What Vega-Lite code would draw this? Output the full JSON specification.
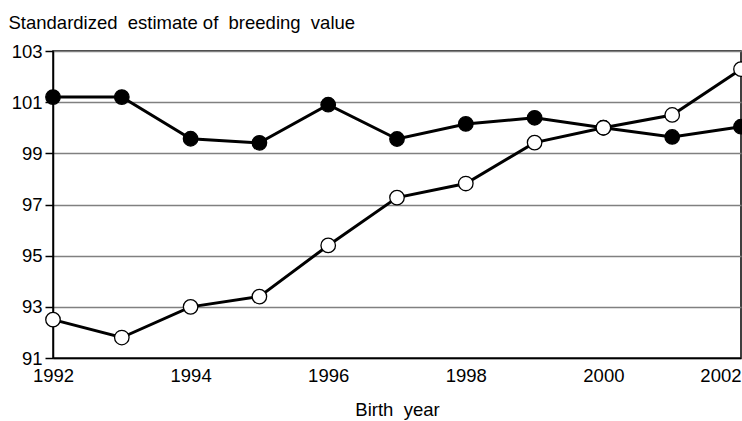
{
  "$schema": "https://vega.github.io/schema/vega-lite/v6.json",
  "width": 688,
  "height": 307,
  "autosize": {"type": "none"},
  "padding": {"left": 53, "top": 51, "right": 1, "bottom": 63},
  "background": "white",
  "config": {
    "view": {"stroke": "black", "strokeWidth": 1.5},
    "font": "Liberation Sans"
  },
  "data": {
    "values": [
      {"year": 1992, "series": "filled", "value": 101.2},
      {"year": 1993, "series": "filled", "value": 101.2},
      {"year": 1994, "series": "filled", "value": 99.57},
      {"year": 1995, "series": "filled", "value": 99.41},
      {"year": 1996, "series": "filled", "value": 100.9},
      {"year": 1997, "series": "filled", "value": 99.56},
      {"year": 1998, "series": "filled", "value": 100.15},
      {"year": 1999, "series": "filled", "value": 100.39},
      {"year": 2000, "series": "filled", "value": 100.0},
      {"year": 2001, "series": "filled", "value": 99.64},
      {"year": 2002, "series": "filled", "value": 100.04},
      {"year": 1992, "series": "open", "value": 92.5},
      {"year": 1993, "series": "open", "value": 91.8},
      {"year": 1994, "series": "open", "value": 93.0},
      {"year": 1995, "series": "open", "value": 93.4},
      {"year": 1996, "series": "open", "value": 95.4},
      {"year": 1997, "series": "open", "value": 97.27},
      {"year": 1998, "series": "open", "value": 97.82},
      {"year": 1999, "series": "open", "value": 99.42},
      {"year": 2000, "series": "open", "value": 100.0},
      {"year": 2001, "series": "open", "value": 100.5},
      {"year": 2002, "series": "open", "value": 102.29}
    ]
  },
  "encoding": {
    "x": {
      "field": "year",
      "type": "quantitative",
      "scale": {"domain": [1992, 2002], "nice": false, "zero": false},
      "axis": {
        "values": [1992, 1994, 1996, 1998, 2000, 2002],
        "format": "d",
        "grid": false,
        "ticks": false,
        "domainColor": "black",
        "domainWidth": 1.5,
        "labelFontSize": 18.5,
        "labelColor": "black",
        "labelPadding": 8,
        "labelAlign": {"condition": {"test": "datum.value == 2002", "value": "right"}, "value": "center"},
        "title": "Birth\u00a0 year",
        "titleFontSize": 18.5,
        "titleFontWeight": "normal",
        "titleColor": "black",
        "titleBaseline": "middle",
        "titleY": 51
      }
    },
    "y": {
      "field": "value",
      "type": "quantitative",
      "scale": {"domain": [91, 103], "nice": false, "zero": false},
      "axis": {
        "values": [91, 93, 95, 97, 99, 101, 103],
        "grid": true,
        "gridColor": "#808080",
        "gridWidth": 1.5,
        "domainColor": "black",
        "domainWidth": 1.5,
        "tickColor": "black",
        "tickSize": 8,
        "tickWidth": 1.5,
        "labelFontSize": 18.5,
        "labelColor": "black",
        "labelPadding": 3,
        "title": "Standardized\u00a0 estimate of\u00a0 breeding\u00a0 value",
        "titleAngle": 0,
        "titleAlign": "left",
        "titleBaseline": "alphabetic",
        "titleX": -45,
        "titleY": -23,
        "titleFontSize": 18.5,
        "titleFontWeight": "normal",
        "titleColor": "black"
      }
    }
  },
  "layer": [
    {
      "mark": {"type": "line", "color": "black", "strokeWidth": 3},
      "encoding": {"detail": {"field": "series"}}
    },
    {
      "mark": {"type": "circle", "size": 210, "opacity": 1, "stroke": "black", "strokeWidth": 1.3},
      "encoding": {
        "fill": {
          "field": "series",
          "type": "nominal",
          "scale": {"domain": ["filled", "open"], "range": ["black", "white"]},
          "legend": null
        }
      }
    }
  ]
}
